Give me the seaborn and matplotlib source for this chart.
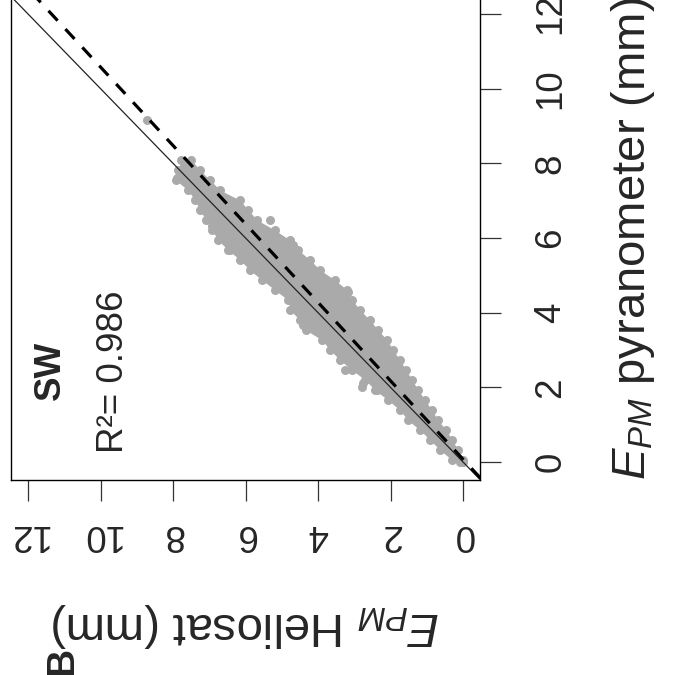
import matplotlib
matplotlib.use("Agg")
import matplotlib.pyplot as plt
import seaborn as sns
import numpy as np
import pandas as pd

# ---------------- data ----------------
# dense core of the cloud: pyranometer value and Heliosat range of the cloud
pyr_band = [8.09, 7.82, 7.55, 7.28, 7.01, 6.75, 6.48, 6.21, 5.94, 5.68, 5.41,
            5.14, 4.87, 4.61, 4.34, 4.07, 3.80, 3.53, 3.27, 3.00, 2.73, 2.46,
            2.20, 1.93, 1.66, 1.39, 1.12, 0.86, 0.59, 0.32, 0.05, 0.00]
helio_band_hi = [7.78, 7.86, 7.92, 7.59, 7.39, 7.26, 7.09, 6.92, 6.76, 6.48, 6.15,
                 5.88, 5.54, 5.19, 4.83, 4.77, 4.50, 4.33, 3.89, 3.67, 3.39, 3.06,
                 2.70, 2.43, 2.07, 1.74, 1.52, 1.19, 0.91, 0.63, 0.30, 0.08]
helio_band_lo = [7.50, 7.26, 6.98, 6.70, 6.15, 5.93, 5.68, 5.19, 4.77, 4.55, 4.22,
                 3.94, 3.53, 3.20, 3.06, 2.84, 2.57, 2.34, 2.10, 1.93, 1.74, 1.57,
                 1.41, 1.24, 1.05, 0.86, 0.69, 0.47, 0.30, 0.14, 0.00, 0.00]
# isolated / protruding points
pyr_pts = [9.16, 6.48, 7.60, 6.32, 5.81, 5.68, 4.55, 2.46, 2.12, 1.93, 2.01, 3.67]
helio_pts = [8.72, 5.32, 7.89, 6.92, 4.69, 6.43, 3.17, 3.26, 2.76, 2.37, 2.79, 4.41]

# regression line  Heliosat = slope * pyranometer + intercept
reg_slope = 0.952
reg_intercept = -0.07

ticks = [0, 2, 4, 6, 8, 10, 12]
station = "SW"
r2_text = "R\u00b2= 0.986"
panel = "B"
xlab = r"$E_{PM}$ Heliosat (mm)"
ylab = r"$E_{PM}$ pyranometer (mm)"

# ---------------- style ----------------
sns.set_style("ticks")
plt.rcParams["font.family"] = ["Liberation Sans", "DejaVu Sans"]
plt.rcParams["mathtext.fontset"] = "custom"
plt.rcParams["mathtext.rm"] = "Liberation Sans"
plt.rcParams["mathtext.it"] = "Liberation Sans:italic"
plt.rcParams["mathtext.bf"] = "Liberation Sans:bold"

grey = "#aaaaaa"

fig = plt.figure(figsize=(6.95, 6.75), dpi=100)
ax = fig.add_axes([0.01525, 0.2890, 0.6760, 0.7169])

# cloud
ax.fill_betweenx(pyr_band, helio_band_lo, helio_band_hi, color=grey, lw=0, zorder=1)
pts = pd.DataFrame({
    "helio": list(helio_band_hi) + list(helio_band_lo) + list(helio_pts),
    "pyr": list(pyr_band) + list(pyr_band) + list(pyr_pts),
})
sns.scatterplot(data=pts, x="helio", y="pyr", ax=ax, color=grey, s=42,
                linewidth=0, zorder=2, legend=False)

# 1:1 line and regression line
ax.axline((0, 0), slope=1, color="#222222", lw=0.9, zorder=3)
ax.axline((reg_intercept, 0), slope=1 / reg_slope, color="black", lw=2.3,
          ls=(0, (4.2, 3.6)), zorder=4)

ax.set_xlim(12.48, -0.48)
ax.set_ylim(-0.48, 12.48)

ax.set_xticks(ticks)
ax.set_yticks(ticks)
ax.set_xticklabels([str(t) for t in ticks], rotation=180, fontsize=26.5)
ax.yaxis.tick_right()
ax.set_yticklabels([str(t) for t in ticks], rotation=90, fontsize=26.5, va="center")
ax.tick_params(axis="both", direction="out", length=15, width=0.9, color="#333333")
ax.tick_params(axis="x", pad=12)
ax.tick_params(axis="y", pad=23)
for sp in ax.spines.values():
    sp.set_visible(True)
    sp.set_linewidth(1.0)
    sp.set_color("black")

ax.set_xlabel(xlab, rotation=180, fontsize=34, va="center", ha="center")
ax.xaxis.set_label_coords(0.5, -0.300)
ax.yaxis.set_label_position("right")
ax.set_ylabel(ylab, rotation=90, fontsize=34, va="center", ha="center")
ax.yaxis.set_label_coords(1.3248, 0.5)

ax.text(11.37, 1.66, station, rotation=90, rotation_mode="anchor", ha="left",
        va="center", fontsize=26.5, fontweight="bold")
ax.text(9.63, 0.24, r2_text, rotation=90, rotation_mode="anchor", ha="left",
        va="center", fontsize=26.5)

# panel letter, bottom-left corner of the figure
fig.text(62 / 695, 1 - 661 / 675, panel, rotation=90, ha="center", va="center",
         fontsize=28, fontweight="bold")

fig.savefig("out.png", dpi=100)
